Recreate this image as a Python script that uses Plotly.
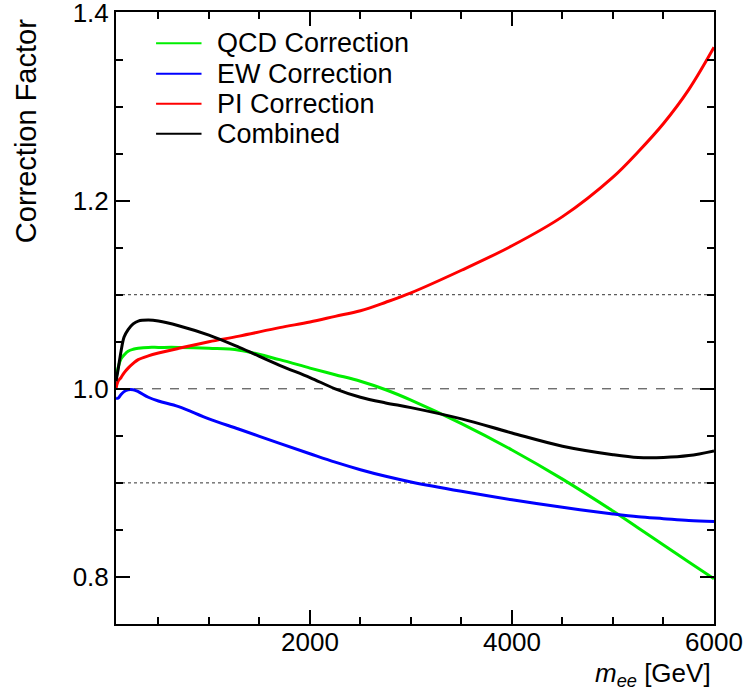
import plotly.graph_objects as go

mass = [80, 100, 130, 160, 200, 250, 300, 400, 500, 700, 1000, 1300, 1700,
        2000, 2250, 2500, 2750, 3000, 3500, 4000, 4500, 5000, 5250, 5500,
        5750, 6000]

qcd = [1.010, 1.022, 1.032, 1.036, 1.040, 1.042, 1.043, 1.044, 1.044, 1.044,
       1.043, 1.041, 1.031, 1.022, 1.015, 1.008, 0.999, 0.988, 0.963, 0.935,
       0.904, 0.870, 0.852, 0.834, 0.816, 0.798]
ew = [0.990, 0.990, 0.994, 0.997, 0.999, 0.999, 0.997, 0.991, 0.987, 0.981,
      0.968, 0.957, 0.942, 0.931, 0.922, 0.914, 0.907, 0.901, 0.891, 0.882,
      0.874, 0.867, 0.864, 0.862, 0.860, 0.859]
pi = [1.000, 1.008, 1.012, 1.017, 1.022, 1.027, 1.031, 1.035, 1.038, 1.043,
      1.050, 1.056, 1.065, 1.071, 1.077, 1.083, 1.092, 1.102, 1.126, 1.152,
      1.183, 1.225, 1.252, 1.282, 1.318, 1.363]
combined = [1.008, 1.020, 1.040, 1.055, 1.063, 1.069, 1.072, 1.073, 1.072,
            1.067, 1.057, 1.044, 1.025, 1.012, 1.000, 0.991, 0.985, 0.980,
            0.968, 0.953, 0.939, 0.930, 0.927, 0.927, 0.929, 0.934]

series_names = ["QCD Correction", "EW Correction", "PI Correction", "Combined"]
series_values = [qcd, ew, pi, combined]
series_colors = ["#00ee00", "#0000ff", "#ff0000", "#000000"]

ref_lines = [1.1, 1.0, 0.9]
ref_dash = ["dot", "dash", "dot"]

x_ticks = [2000, 4000, 6000]
y_ticks = [0.8, 1.0, 1.2, 1.4]

FONT = "Liberation Sans, Arial, Helvetica, sans-serif"

fig = go.Figure()
for name, vals, col in zip(series_names, series_values, series_colors):
    fig.add_trace(go.Scatter(x=mass, y=vals, mode="lines", name=name,
                             showlegend=False,
                             line=dict(color=col, width=3, shape="spline",
                                       smoothing=1.0)))

for yv, d in zip(ref_lines, ref_dash):
    fig.add_shape(type="line", xref="x domain", yref="y", x0=0, x1=1,
                  y0=yv, y1=yv, line=dict(color="#333333", width=1, dash=d),
                  layer="below")

# manual legend (tighter row spacing than plotly's built-in legend)
leg_rows = [0.949, 0.899, 0.850, 0.801]
for name, col, yy in zip(series_names, series_colors, leg_rows):
    fig.add_shape(type="line", xref="paper", yref="paper", x0=0.067,
                  x1=0.143, y0=yy, y1=yy, line=dict(color=col, width=2))
    fig.add_annotation(text=name, xref="paper", yref="paper", x=0.165, y=yy,
                       xanchor="left", yanchor="middle", showarrow=False,
                       font=dict(family=FONT, size=27, color="black"))

axis_common = dict(showgrid=False, zeroline=False, showline=True,
                   linecolor="black", linewidth=2, ticks="inside",
                   ticklen=14, tickwidth=2, tickcolor="black", mirror="ticks",
                   ticklabeloverflow="allow", automargin=False,
                   tickfont=dict(family=FONT, size=26, color="black"))

fig.update_xaxes(range=[80, 6000], tickvals=x_ticks, ticklabelstandoff=-6,
                 minor=dict(tick0=0, dtick=500, ticklen=7, tickwidth=2,
                            ticks="inside", tickcolor="black"),
                 **axis_common)
fig.update_yaxes(range=[0.75, 1.4005], tickvals=y_ticks, tickformat=".1f",
                 minor=dict(tick0=0, dtick=0.05, ticklen=7, tickwidth=2,
                            ticks="inside", tickcolor="black"),
                 **axis_common)

fig.add_annotation(text="<i>m</i><sub><i>ee</i></sub> [GeV]", xref="paper",
                   yref="paper", x=0.999, y=-0.113, xanchor="right",
                   yanchor="bottom", showarrow=False,
                   font=dict(family=FONT, size=26, color="black"))
fig.add_annotation(text="Correction Factor", xref="paper", yref="paper",
                   x=-0.150, y=0.992, xanchor="center", yanchor="top",
                   textangle=-90, showarrow=False,
                   font=dict(family=FONT, size=29, color="black"))

fig.update_layout(
    width=745, height=693,
    margin=dict(l=116, r=31, t=12, b=69, autoexpand=False),
    paper_bgcolor="white", plot_bgcolor="white",
    showlegend=False,
)

fig.write_html("out.html")
